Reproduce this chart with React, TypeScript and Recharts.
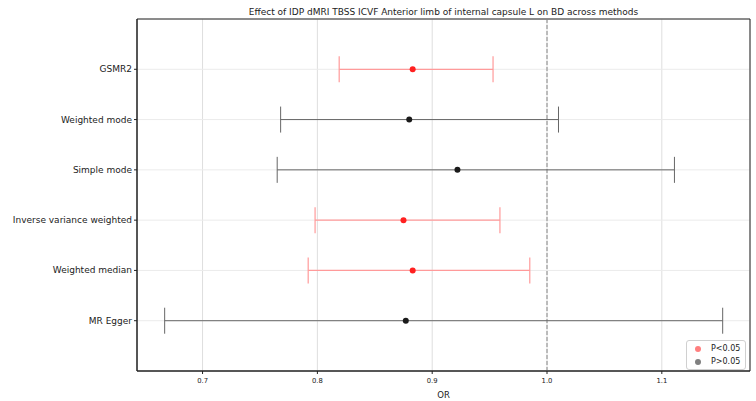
import React from 'react';
import {
  ScatterChart,
  Scatter,
  XAxis,
  YAxis,
  CartesianGrid,
  ErrorBar,
  ReferenceLine,
  ReferenceArea,
} from 'recharts';

// MR methods, bottom to top
const methods = ['MR Egger', 'Weighted median', 'Inverse variance weighted', 'Simple mode', 'Weighted mode', 'GSMR2'];
const oddsRatio = [0.877, 0.883, 0.875, 0.922, 0.880, 0.883];
const ciLower = [0.667, 0.792, 0.798, 0.765, 0.768, 0.819];
const ciUpper = [1.153, 0.985, 0.959, 1.111, 1.010, 0.953];
const significant = [false, true, true, false, false, true];

const xTicks = [0.7, 0.8, 0.9, 1.0, 1.1];
const xDomain: [number, number] = [0.6429, 1.1768];
const yDomain: [number, number] = [-1, 6];

const FONT = '"DejaVu Sans", sans-serif';

const rows = methods.map((m, i) => ({
  y: i,
  method: m,
  or: oddsRatio[i],
  err: [oddsRatio[i] - ciLower[i], ciUpper[i] - oddsRatio[i]],
}));

const sigRows = rows.filter((_, i) => significant[i]);
const nsRows = rows.filter((_, i) => !significant[i]);

const dot = (fill: string) => (props: any) => (
  <circle cx={props.cx} cy={props.cy} r={3} fill={fill} />
);

// single-line method label, right aligned against the tick mark
const MethodTick = (props: any) => {
  const { x, y, payload } = props;
  return (
    <text x={x} y={y} dy={3} textAnchor="end" fontSize={9} fill="#222" fontFamily={FONT}>
      {methods[payload.value]}
    </text>
  );
};

function LegendBox() {
  const items = [
    { label: 'P<0.05', color: '#ff7f7f' },
    { label: 'P>0.05', color: '#808080' },
  ];
  return (
    <div
      style={{
        position: 'absolute',
        left: 686,
        top: 340,
        border: '1px solid #d0d0d0',
        borderRadius: 3,
        background: 'rgba(255,255,255,0.8)',
        padding: '1px 4px 1px 6px',
        fontFamily: FONT,
        fontSize: 8,
        color: '#222',
        width: 48,
      }}
    >
      {items.map((it) => (
        <div key={it.label} style={{ display: 'flex', alignItems: 'center', height: 13 }}>
          <span
            style={{
              width: 6,
              height: 6,
              borderRadius: 3,
              background: it.color,
              display: 'inline-block',
              marginRight: 10,
              marginLeft: 2,
            }}
          />
          {it.label}
        </div>
      ))}
    </div>
  );
}

export default function App() {
  return (
    <div style={{ position: 'absolute', left: 0, top: 0, width: 756, height: 401, background: '#fff' }}>
      <div
        style={{
          position: 'absolute',
          left: 137,
          width: 613,
          top: 6,
          textAlign: 'center',
          fontFamily: FONT,
          fontSize: 9,
          color: '#222',
          lineHeight: '12px',
        }}
      >
        Effect of IDP dMRI TBSS ICVF Anterior limb of internal capsule L on BD across methods
      </div>
      <ScatterChart width={756} height={401} margin={{ top: 19, right: 6, bottom: 0, left: 0 }}>
        <CartesianGrid horizontal={false} stroke="#dedede" strokeWidth={1} />
        <CartesianGrid vertical={false} stroke="#ebebeb" strokeWidth={1} />
        <XAxis
          type="number"
          dataKey="or"
          domain={xDomain}
          allowDataOverflow
          ticks={xTicks}
          tickFormatter={(v: number) => v.toFixed(1)}
          tick={{ fontSize: 6.8, fill: '#222', fontFamily: FONT, dy: 2 }}
          tickSize={3}
          tickLine={{ stroke: '#222' }}
          axisLine={{ stroke: '#222' }}
          height={30}
          label={{ value: 'OR', position: 'insideBottom', offset: 3, fontSize: 8.5, fill: '#222', fontFamily: FONT }}
        />
        <YAxis
          type="number"
          dataKey="y"
          domain={yDomain}
          allowDataOverflow
          ticks={[0, 1, 2, 3, 4, 5]}
          tick={<MethodTick />}
          tickSize={3}
          tickLine={{ stroke: '#222' }}
          axisLine={{ stroke: '#222' }}
          width={137}
        />
        <ReferenceLine x={1} stroke="#888" strokeDasharray="4 2" strokeWidth={1} />
        <ReferenceArea
          x1={xDomain[0]}
          x2={xDomain[1]}
          y1={yDomain[0]}
          y2={yDomain[1]}
          fill="none"
          stroke="#222"
          strokeWidth={1}
          ifOverflow="visible"
        />
        <Scatter data={nsRows} isAnimationActive={false} shape={dot('#1a1a1a')}>
          <ErrorBar dataKey="err" direction="x" width={13} stroke="#666" strokeWidth={1} />
        </Scatter>
        <Scatter data={sigRows} isAnimationActive={false} shape={dot('#ff2020')}>
          <ErrorBar dataKey="err" direction="x" width={13} stroke="#ff9a9a" strokeWidth={1.2} />
        </Scatter>
      </ScatterChart>
      <LegendBox />
    </div>
  );
}
